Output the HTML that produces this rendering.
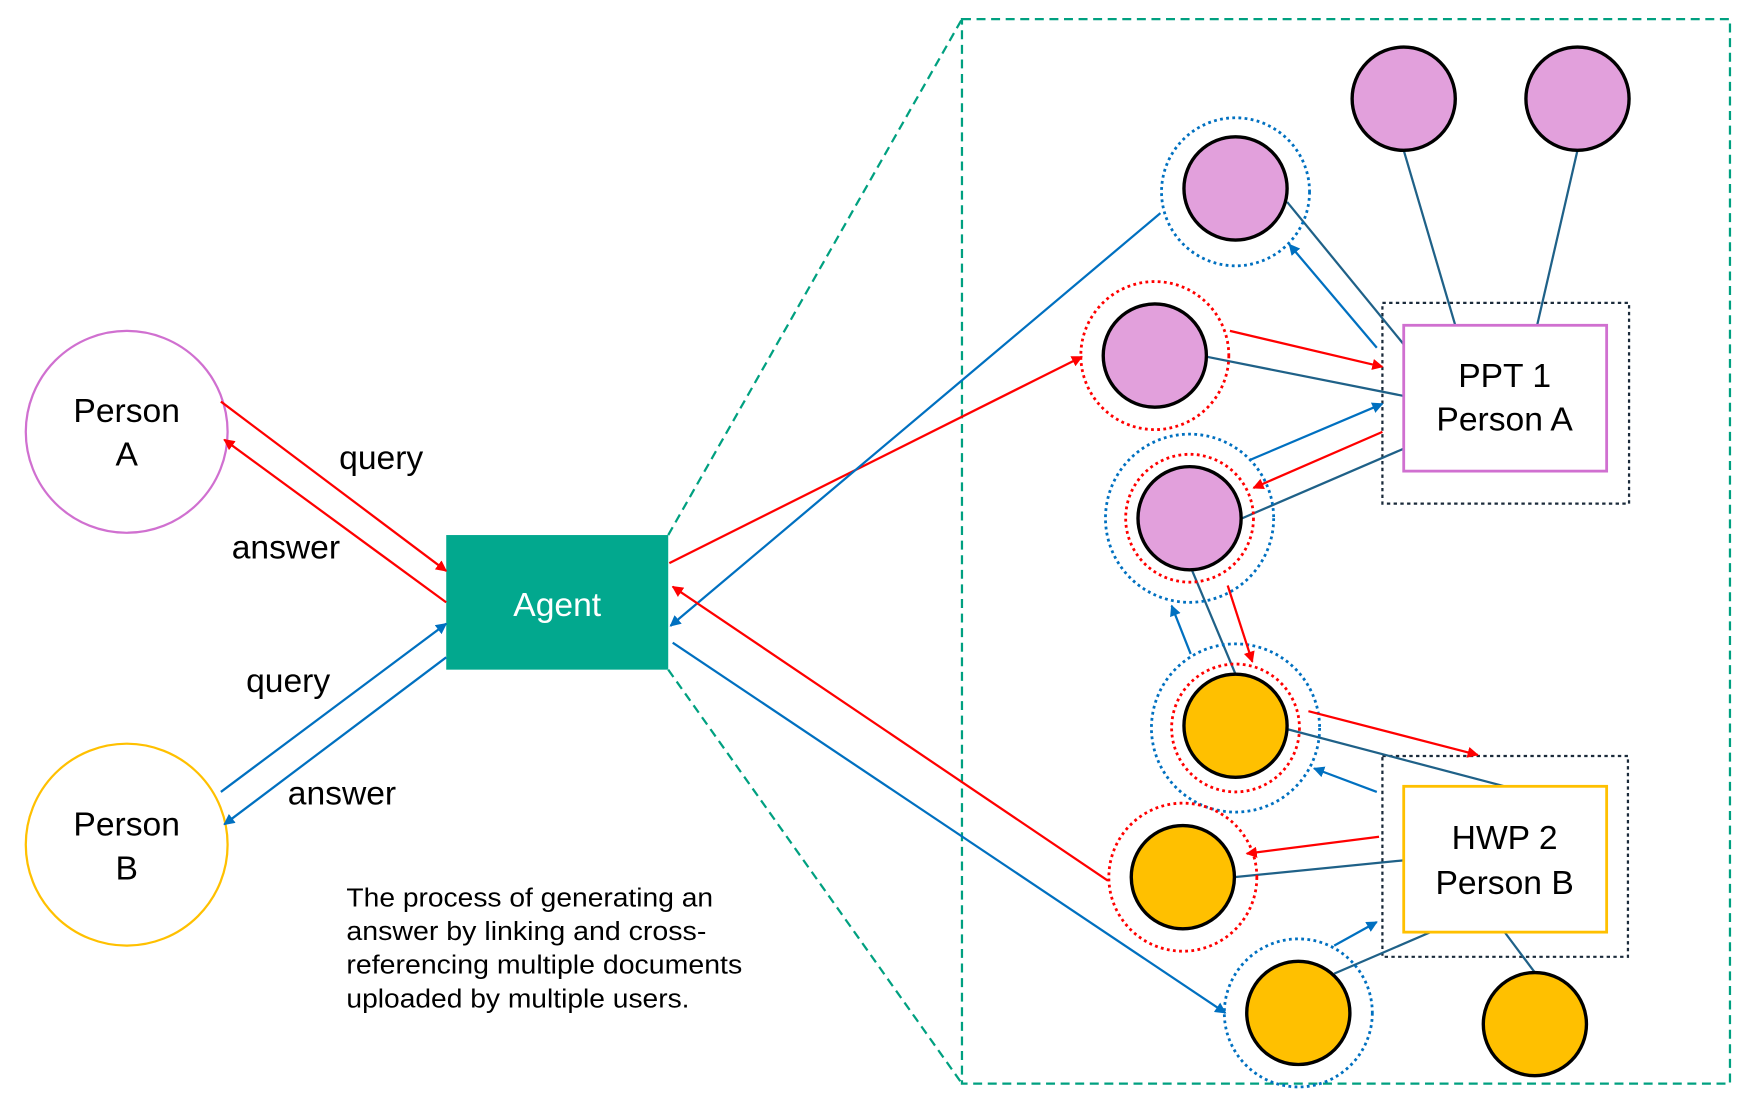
<!DOCTYPE html>
<html><head><meta charset="utf-8"><style>
html,body{margin:0;padding:0;background:#fff;}
svg{display:block;}
text{font-family:"Liberation Sans",sans-serif;}
</style></head><body>
<svg width="1758" height="1106" viewBox="0 0 1568 986" preserveAspectRatio="none" xmlns="http://www.w3.org/2000/svg">
<defs>
<marker id="ar" viewBox="0 0 10 10" refX="9" refY="5" markerWidth="5" markerHeight="5" orient="auto"><path d="M0,0L10,5L0,10z" fill="#ff0000"/></marker>
<marker id="ab" viewBox="0 0 10 10" refX="9" refY="5" markerWidth="5" markerHeight="5" orient="auto"><path d="M0,0L10,5L0,10z" fill="#0070c0"/></marker>
</defs>
<rect width="1568" height="986" fill="#fff"/>
<rect x="858" y="17" width="685" height="949" fill="none" stroke="#00a080" stroke-width="2" stroke-dasharray="8,5"/>
<line x1="596" y1="477" x2="858" y2="17" stroke="#00a080" stroke-width="2" stroke-dasharray="8,5"/>
<line x1="596" y1="597" x2="858" y2="966" stroke="#00a080" stroke-width="2" stroke-dasharray="8,5"/>
<circle cx="113" cy="385" r="90" fill="none" stroke="#d070d0" stroke-width="2"/>
<circle cx="113" cy="753" r="90" fill="none" stroke="#ffc000" stroke-width="2"/>
<g font-size="30" text-anchor="middle" fill="#000">
<text x="113" y="376">Person</text><text x="113" y="415">A</text>
<text x="113" y="745">Person</text><text x="113" y="784">B</text>
<text x="340" y="418">query</text><text x="255" y="498">answer</text>
<text x="257" y="617">query</text><text x="305" y="717">answer</text>
</g>
<rect x="398" y="477" width="198" height="120" fill="#02a88e"/>
<text x="497" y="549" font-size="30" fill="#fff" text-anchor="middle">Agent</text>
<g stroke-width="2" fill="none">
<line x1="197" y1="358" x2="398" y2="509" stroke="#ff0000" marker-end="url(#ar)"/>
<line x1="398" y1="537" x2="200" y2="392" stroke="#ff0000" marker-end="url(#ar)"/>
<line x1="197" y1="706" x2="398" y2="556" stroke="#0070c0" marker-end="url(#ab)"/>
<line x1="398" y1="586" x2="200" y2="735" stroke="#0070c0" marker-end="url(#ab)"/>
<line x1="597" y1="502" x2="965" y2="318" stroke="#ff0000" marker-end="url(#ar)"/>
<line x1="1035" y1="190" x2="598" y2="558" stroke="#0070c0" marker-end="url(#ab)"/>
<line x1="988" y1="785" x2="600" y2="523" stroke="#ff0000" marker-end="url(#ar)"/>
<line x1="600" y1="573" x2="1093" y2="903" stroke="#0070c0" marker-end="url(#ab)"/>
</g>
<g font-size="23" fill="#000">
<text x="309" y="808" textLength="327" lengthAdjust="spacingAndGlyphs">The process of generating an</text>
<text x="309" y="838" textLength="321" lengthAdjust="spacingAndGlyphs">answer by linking and cross-</text>
<text x="309" y="868" textLength="353" lengthAdjust="spacingAndGlyphs">referencing multiple documents</text>
<text x="309" y="898" textLength="306" lengthAdjust="spacingAndGlyphs">uploaded by multiple users.</text>
</g>
<rect x="1233" y="270" width="220" height="179" fill="none" stroke="#1a2a3a" stroke-width="2" stroke-dasharray="3,3"/>
<rect x="1233" y="674" width="219" height="179" fill="none" stroke="#1a2a3a" stroke-width="2" stroke-dasharray="3,3"/>
<g stroke="#1f6188" stroke-width="2">
<line x1="1252" y1="134" x2="1298" y2="290"/>
<line x1="1407" y1="134" x2="1371" y2="290"/>
<line x1="1148" y1="180" x2="1252" y2="307"/>
<line x1="1076" y1="318" x2="1252" y2="353"/>
<line x1="1108" y1="462" x2="1252" y2="400"/>
<line x1="1063" y1="508" x2="1102" y2="601"/>
<line x1="1148" y1="650" x2="1342" y2="701"/>
<line x1="1101" y1="782" x2="1252" y2="767"/>
<line x1="1190" y1="868" x2="1276" y2="831"/>
<line x1="1369" y1="867" x2="1342" y2="831"/>
</g>
<rect x="1252" y="290" width="181" height="130" fill="#fff" stroke="#d070d0" stroke-width="2.5"/>
<rect x="1252" y="701" width="181" height="130" fill="#fff" stroke="#ffc000" stroke-width="2.5"/>
<g font-size="30" text-anchor="middle" fill="#000">
<text x="1342" y="345">PPT 1</text><text x="1342" y="384">Person A</text>
<text x="1342" y="757">HWP 2</text><text x="1342" y="797">Person B</text>
</g>
<g fill="none" stroke-width="2.5" stroke-dasharray="2.5,3">
<circle cx="1102" cy="171" r="66" stroke="#0070c0"/>
<circle cx="1030" cy="317" r="66" stroke="#ff0000"/>
<circle cx="1061" cy="462" r="57" stroke="#ff0000"/>
<circle cx="1061" cy="462" r="75" stroke="#0070c0"/>
<circle cx="1102" cy="649" r="57" stroke="#ff0000"/>
<circle cx="1102" cy="649" r="75" stroke="#0070c0"/>
<circle cx="1055" cy="782" r="66" stroke="#ff0000"/>
<circle cx="1158" cy="903" r="66" stroke="#0070c0"/>
</g>
<g stroke="#000" stroke-width="3">
<circle cx="1252" cy="88" r="46" fill="#e2a0dc"/>
<circle cx="1407" cy="88" r="46" fill="#e2a0dc"/>
<circle cx="1102" cy="168" r="46" fill="#e2a0dc"/>
<circle cx="1030" cy="317" r="46" fill="#e2a0dc"/>
<circle cx="1061" cy="462" r="46" fill="#e2a0dc"/>
<circle cx="1102" cy="647" r="46" fill="#ffc000"/>
<circle cx="1055" cy="782" r="46" fill="#ffc000"/>
<circle cx="1158" cy="903" r="46" fill="#ffc000"/>
<circle cx="1369" cy="913" r="46" fill="#ffc000"/>
</g>
<g stroke-width="2" fill="none">
<line x1="1228" y1="310" x2="1150" y2="218" stroke="#0070c0" marker-end="url(#ab)"/>
<line x1="1097" y1="295" x2="1233" y2="327" stroke="#ff0000" marker-end="url(#ar)"/>
<line x1="1115" y1="410" x2="1233" y2="360" stroke="#0070c0" marker-end="url(#ab)"/>
<line x1="1233" y1="385" x2="1118" y2="435" stroke="#ff0000" marker-end="url(#ar)"/>
<line x1="1062" y1="583" x2="1045" y2="540" stroke="#0070c0" marker-end="url(#ab)"/>
<line x1="1095" y1="522" x2="1117" y2="590" stroke="#ff0000" marker-end="url(#ar)"/>
<line x1="1167" y1="634" x2="1318" y2="673" stroke="#ff0000" marker-end="url(#ar)"/>
<line x1="1228" y1="706" x2="1172" y2="685" stroke="#0070c0" marker-end="url(#ab)"/>
<line x1="1230" y1="746" x2="1112" y2="761" stroke="#ff0000" marker-end="url(#ar)"/>
<line x1="1190" y1="843" x2="1228" y2="822" stroke="#0070c0" marker-end="url(#ab)"/>
</g>
</svg>
</body></html>
